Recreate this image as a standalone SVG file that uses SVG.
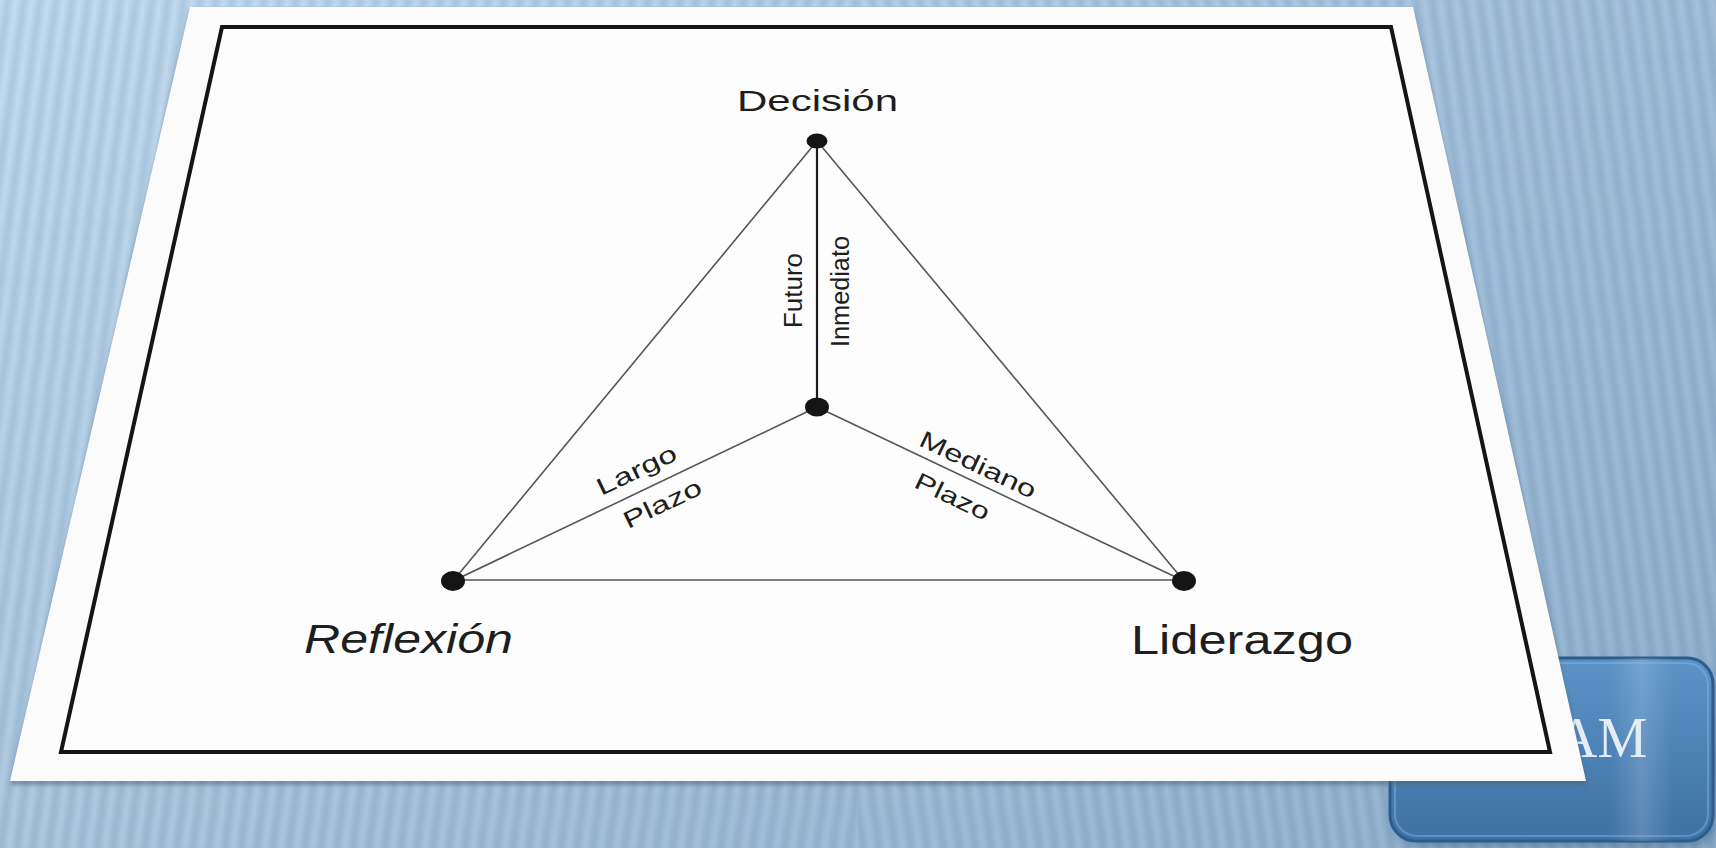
<svg xmlns="http://www.w3.org/2000/svg" width="1716" height="848" viewBox="0 0 1716 848">
<style>
.lbl{font-family:"Liberation Sans",Arial,sans-serif;fill:#1e1e1e}
.edge{stroke:#555;stroke-width:1.6;fill:none}
.dot{fill:#151515}
</style>
<defs>
<linearGradient id="bgH" x1="0" y1="0" x2="1" y2="0">
<stop offset="0" stop-color="#c6ddf0"/>
<stop offset="0.5" stop-color="#b6d0e7"/>
<stop offset="1" stop-color="#a4c1db"/>
</linearGradient>
<linearGradient id="bgV" x1="0" y1="0" x2="0" y2="1">
<stop offset="0" stop-color="#1d4c7a" stop-opacity="0"/>
<stop offset="1" stop-color="#1d4c7a" stop-opacity="0.14"/>
</linearGradient>
<linearGradient id="sg" x1="0" y1="0" x2="1" y2="0">
<stop offset="0" stop-color="#1d4c7a" stop-opacity="0"/>
<stop offset="0.5" stop-color="#1d4c7a" stop-opacity="0.14"/>
<stop offset="1" stop-color="#1d4c7a" stop-opacity="0"/>
</linearGradient>
<pattern id="stripeL" patternUnits="userSpaceOnUse" width="16" height="16" patternTransform="skewX(-8)">
<rect width="16" height="16" fill="url(#sg)"/>
</pattern>
<pattern id="stripeR" patternUnits="userSpaceOnUse" width="16" height="16" patternTransform="skewX(8)">
<rect width="16" height="16" fill="url(#sg)"/>
</pattern>
<linearGradient id="btnG" x1="0" y1="0" x2="0" y2="1">
<stop offset="0" stop-color="#5c93c7"/>
<stop offset="1" stop-color="#3e71a4"/>
</linearGradient>
<linearGradient id="btnH" x1="0" y1="0" x2="1" y2="0">
<stop offset="0" stop-color="#ffffff" stop-opacity="0"/>
<stop offset="0.68" stop-color="#ffffff" stop-opacity="0"/>
<stop offset="0.78" stop-color="#ffffff" stop-opacity="0.16"/>
<stop offset="0.88" stop-color="#ffffff" stop-opacity="0"/>
<stop offset="1" stop-color="#ffffff" stop-opacity="0"/>
</linearGradient>
<filter id="blur2" x="-10%" y="-10%" width="120%" height="130%"><feGaussianBlur stdDeviation="2"/></filter>
<filter id="blur6" x="-20%" y="-20%" width="140%" height="140%"><feGaussianBlur stdDeviation="6"/></filter>
</defs>

<g id="background">
<rect width="1716" height="848" fill="url(#bgH)"/>
<rect width="1716" height="848" fill="url(#bgV)"/>
<rect x="0" y="0" width="858" height="848" fill="url(#stripeL)"/>
<rect x="858" y="0" width="858" height="848" fill="url(#stripeR)"/>
</g>

<g id="button">
<rect x="1394" y="666" width="323" height="180" rx="26" fill="#2a4f74" opacity="0.45" filter="url(#blur6)"/>
<rect x="1390" y="658" width="323" height="183" rx="26" fill="url(#btnG)" stroke="#2c5d8c" stroke-width="3"/>
<rect x="1390" y="658" width="323" height="183" rx="26" fill="url(#btnH)"/>
<rect x="1395" y="663" width="313" height="173" rx="22" fill="none" stroke="#8cb6dd" stroke-opacity="0.45" stroke-width="2"/>
<text x="1557" y="757" font-family="'Liberation Serif','Times New Roman',serif" font-size="56" fill="#e2edf8">AM</text>
</g>

<g id="paper">
<polygon points="190,10 1413,10 1587,785 10,785" fill="#4d6378" opacity="0.55" filter="url(#blur2)"/>
<polygon points="190,7 1413,7 1586,781 10,781" fill="#fbfbfb"/>
<polygon points="222,27 1391,27 1550,752 61,752" fill="#fdfdfd" stroke="#151515" stroke-width="4" stroke-linejoin="miter"/>
</g>

<g id="connectors">
<line class="edge" x1="817" y1="141" x2="453" y2="581"/>
<line class="edge" x1="817" y1="141" x2="1184" y2="581"/>
<line class="edge" x1="453" y1="580" x2="1184" y2="580" stroke="#333"/>
<line x1="817" y1="141" x2="817" y2="407" stroke="#1e1e1e" stroke-width="2.2"/>
<line class="edge" x1="817" y1="407" x2="453" y2="581"/>
<line class="edge" x1="817" y1="407" x2="1184" y2="581"/>
<text class="lbl" font-size="25" textLength="75" lengthAdjust="spacingAndGlyphs" transform="translate(802,328) rotate(-90)">Futuro</text>
<text class="lbl" font-size="25" textLength="111" lengthAdjust="spacingAndGlyphs" transform="translate(849,347) rotate(-90)">Inmediato</text>
<text class="lbl" font-size="24" text-anchor="middle" textLength="86" lengthAdjust="spacingAndGlyphs" transform="translate(640,477.5) rotate(-25.6)">Largo</text>
<text class="lbl" font-size="24" text-anchor="middle" textLength="84" lengthAdjust="spacingAndGlyphs" transform="translate(666,511) rotate(-25.6)">Plazo</text>
<text class="lbl" font-size="24" text-anchor="middle" textLength="126" lengthAdjust="spacingAndGlyphs" transform="translate(974.5,472) rotate(25.4)">Mediano</text>
<text class="lbl" font-size="24" text-anchor="middle" textLength="80" lengthAdjust="spacingAndGlyphs" transform="translate(949,504) rotate(25.4)">Plazo</text>
</g>

<g id="node-decision">
<ellipse class="dot" cx="817" cy="141" rx="10.5" ry="7.5"/>
<text class="lbl" x="737" y="110.5" font-size="29" textLength="161" lengthAdjust="spacingAndGlyphs">Decisión</text>
</g>

<g id="node-center">
<ellipse class="dot" cx="817" cy="407" rx="12" ry="9.5"/>
</g>

<g id="node-reflexion">
<ellipse class="dot" cx="453" cy="581" rx="12" ry="10"/>
<text class="lbl" x="304" y="653" font-size="40" font-style="italic" textLength="209" lengthAdjust="spacingAndGlyphs">Reflexión</text>
</g>

<g id="node-liderazgo">
<ellipse class="dot" cx="1184" cy="581" rx="12" ry="10"/>
<text class="lbl" x="1131" y="654" font-size="40" textLength="222" lengthAdjust="spacingAndGlyphs">Liderazgo</text>
</g>
</svg>
